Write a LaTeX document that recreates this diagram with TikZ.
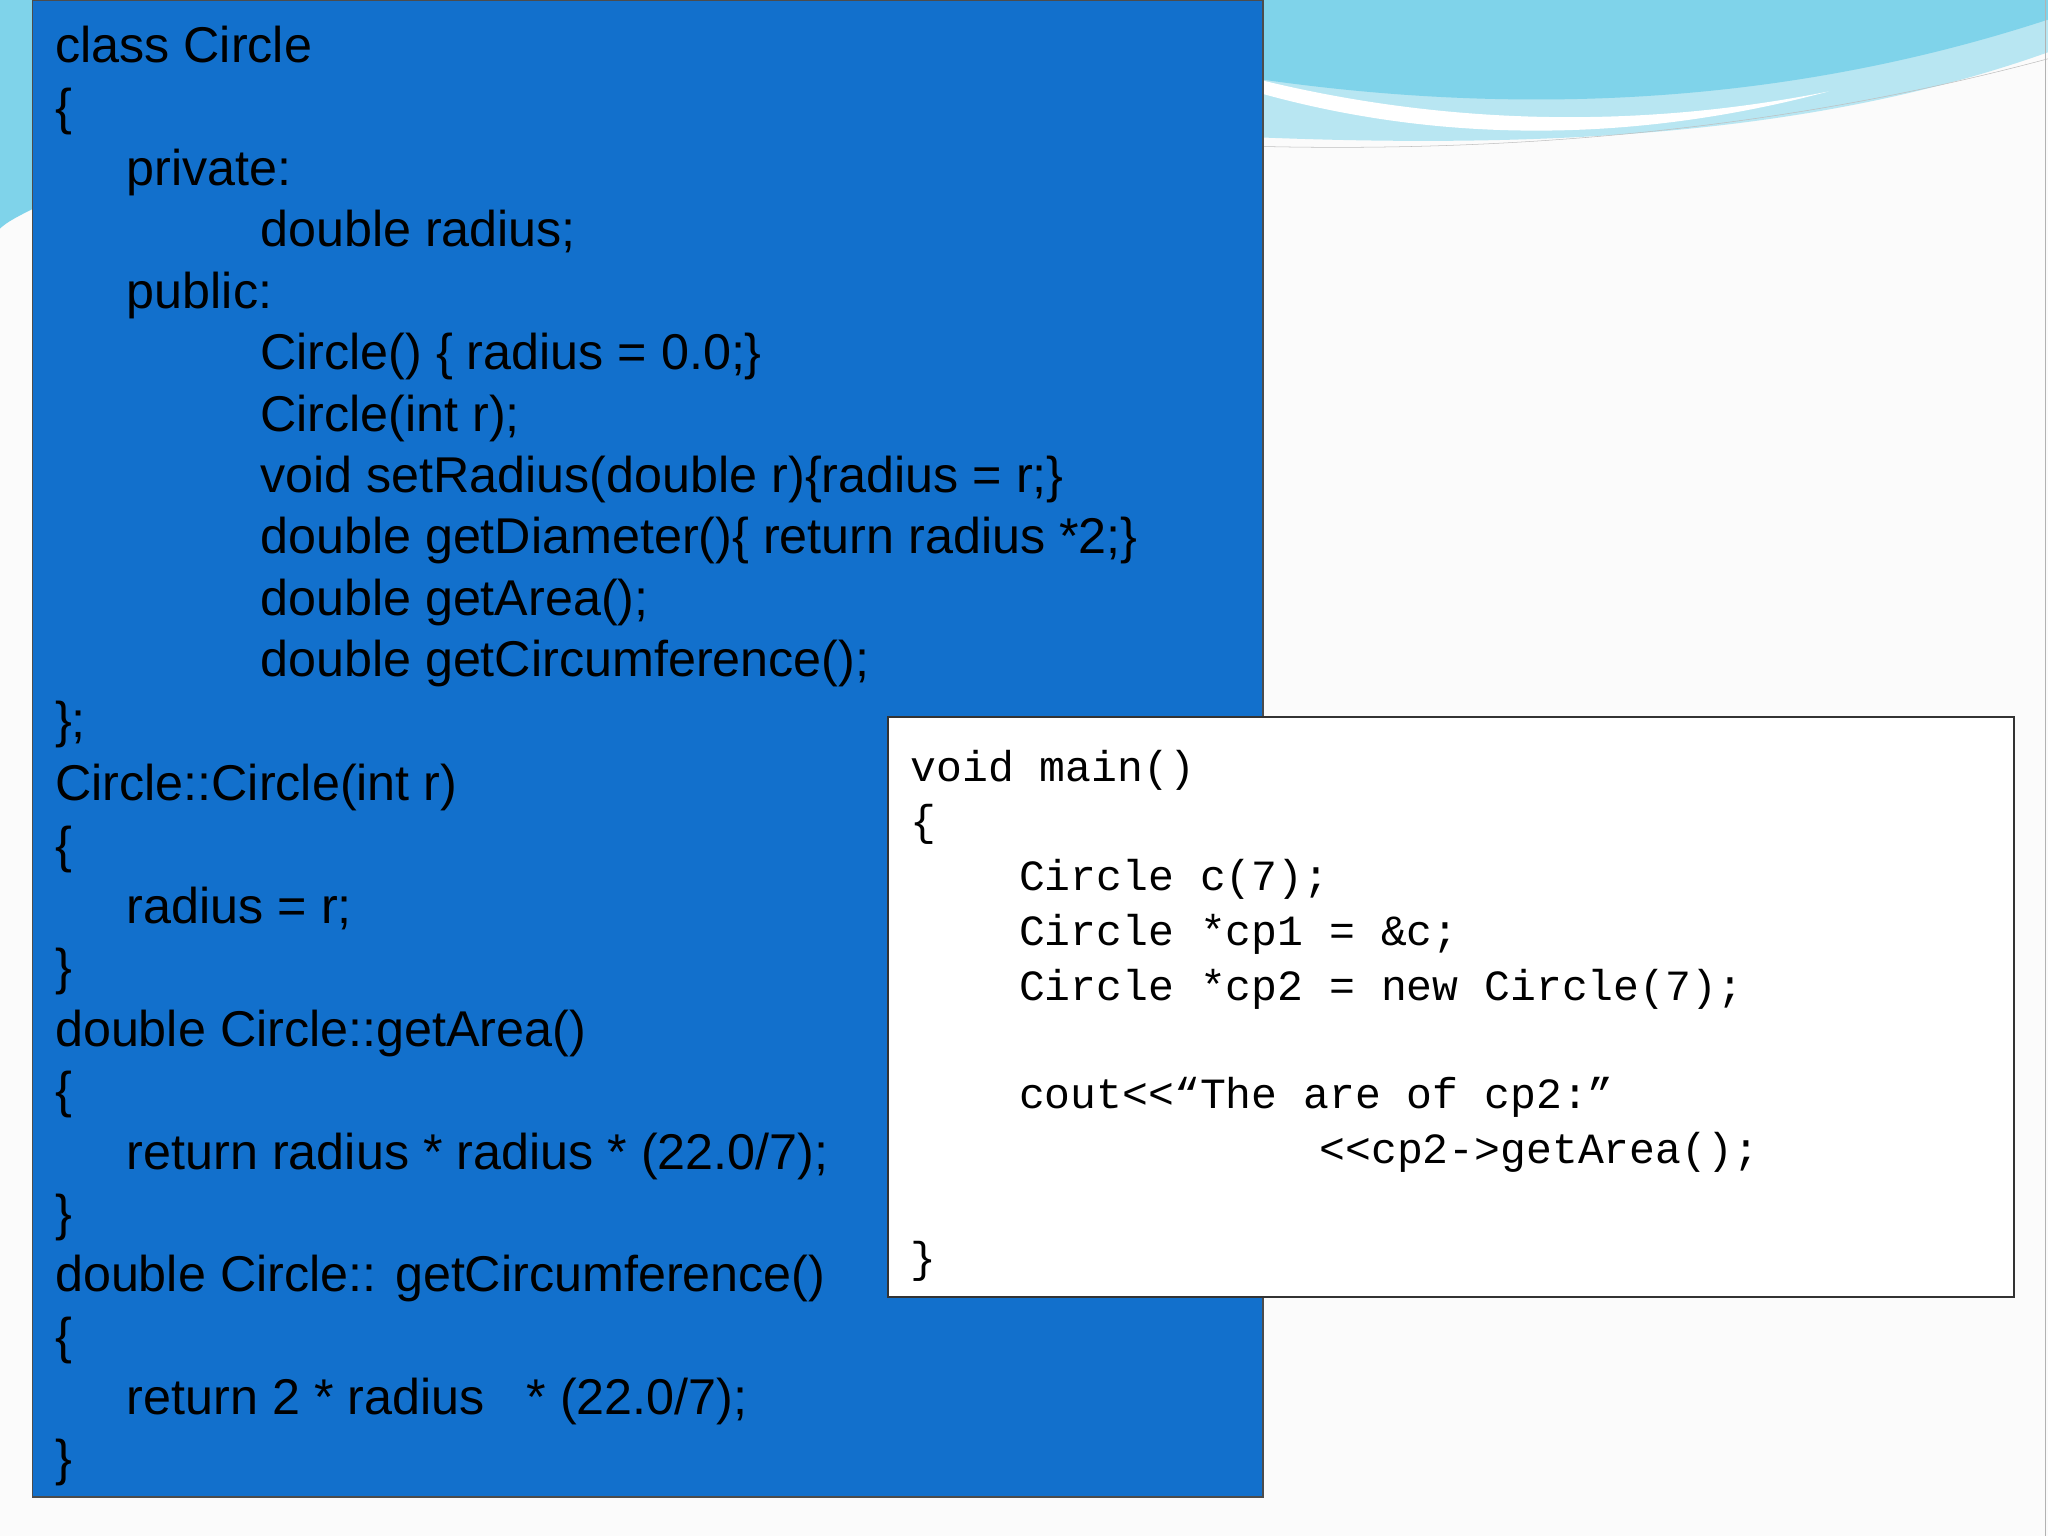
\documentclass[tikz,border=0pt]{standalone}
\usepackage{fontspec}
\setmainfont{Liberation Sans}
\newfontfamily\monof{Liberation Mono}
\begin{document}
\begin{tikzpicture}[x=1pt,y=-1pt,
 bt/.style={anchor=base west,inner sep=0,text=black,font=\fontsize{38.5}{40}\selectfont},
 mt/.style={anchor=base west,inner sep=0,text=black,font=\monof\fontsize{33}{35}\selectfont}]
\definecolor{bluebg}{HTML}{1270CC}
\definecolor{wave}{HTML}{7FD3EA}
\definecolor{wave2}{HTML}{B8E6F2}
\useasboundingbox (0,0) rectangle (1568,1176);
\fill[white!97!gray] (0,0) rectangle (1568,1176);
% decorations
\fill[wave2] (960,0) -- (1568,0) -- (1568,40) .. controls (1400,100) and (1200,115) .. (960,105) -- cycle;
\fill[wave] (960,0) -- (1568,0) -- (1568,15) .. controls (1400,70) and (1200,95) .. (960,60) -- cycle;
\fill[white] (960,60) .. controls (1100,95) and (1250,100) .. (1400,70) .. controls (1250,110) and (1100,110) .. (960,70) -- cycle;
\draw[gray!50] (960,112) .. controls (1200,118) and (1400,90) .. (1568,45);
\fill[wave] (0,0) -- (25,0) -- (25,160) .. controls (15,165) and (5,170) .. (0,175) -- cycle;
\draw[gray!60] (1566,0) -- (1566,1176);
\fill[bluebg] (25,0) rectangle (967,1146);
\draw[black!70,line width=1.2] (25,0) rectangle (967,1146);
\node[bt] (b1) at (42,48) {class Circle};
\node[bt] (b2) at (42,95) {\{};
\node[bt] (b3) at (97,142) {private:};
\node[bt] (b4) at (199,189) {double radius;};
\node[bt] (b5) at (97,236) {public:};
\node[bt] (b6) at (199,283) {Circle() \{ radius = 0.0;\}};
\node[bt] (b7) at (199,330) {Circle(int r);};
\node[bt] (b8) at (199,377) {void setRadius(double r)\{radius = r;\}};
\node[bt] (b9) at (199,424) {double getDiameter()\{ return radius *2;\}};
\node[bt] (b10) at (199,471) {double getArea();};
\node[bt] (b11) at (199,518) {double getCircumference();};
\node[bt] (b12) at (42,565) {\};};
\node[bt] (b13) at (42,613) {Circle::Circle(int r)};
\node[bt] (b14) at (42,660) {\{};
\node[bt] (b15) at (97,707) {radius = r;};
\node[bt] (b16) at (42,754) {\}};
\node[bt] (b17) at (42,801) {double Circle::getArea()};
\node[bt] (b18) at (42,848) {\{};
\node[bt] (b19) at (97,895) {return radius * radius * (22.0/7);};
\node[bt] (b20) at (42,942) {\}};
\node[bt] (b21) at (42,989) {double Circle:: getCircumference()};
\node[bt] (b22) at (42,1036) {\{};
\node[bt] (b23) at (97,1083) {return 2 * radius \ \ * (22.0/7);};
\node[bt] (b24) at (42,1130) {\}};
\fill[white] (680,549) rectangle (1542,993);
\draw[black!80,line width=1.2] (680,549) rectangle (1542,993);
\node[mt] (m1) at (697,598) {void main()};
\node[mt] (m2) at (697,640) {\{};
\node[mt] (m3) at (780,682) {Circle c(7);};
\node[mt] (m4) at (780,724) {Circle *cp1 = \&c;};
\node[mt] (m5) at (780,766) {Circle *cp2 = new Circle(7);};
\node[mt] (m6) at (780,849) {cout<<“The are of cp2:”};
\node[mt] (m7) at (1010,891) {<<cp2->getArea();};
\node[mt] (m8) at (697,974) {\}};
\end{tikzpicture}
\end{document}
